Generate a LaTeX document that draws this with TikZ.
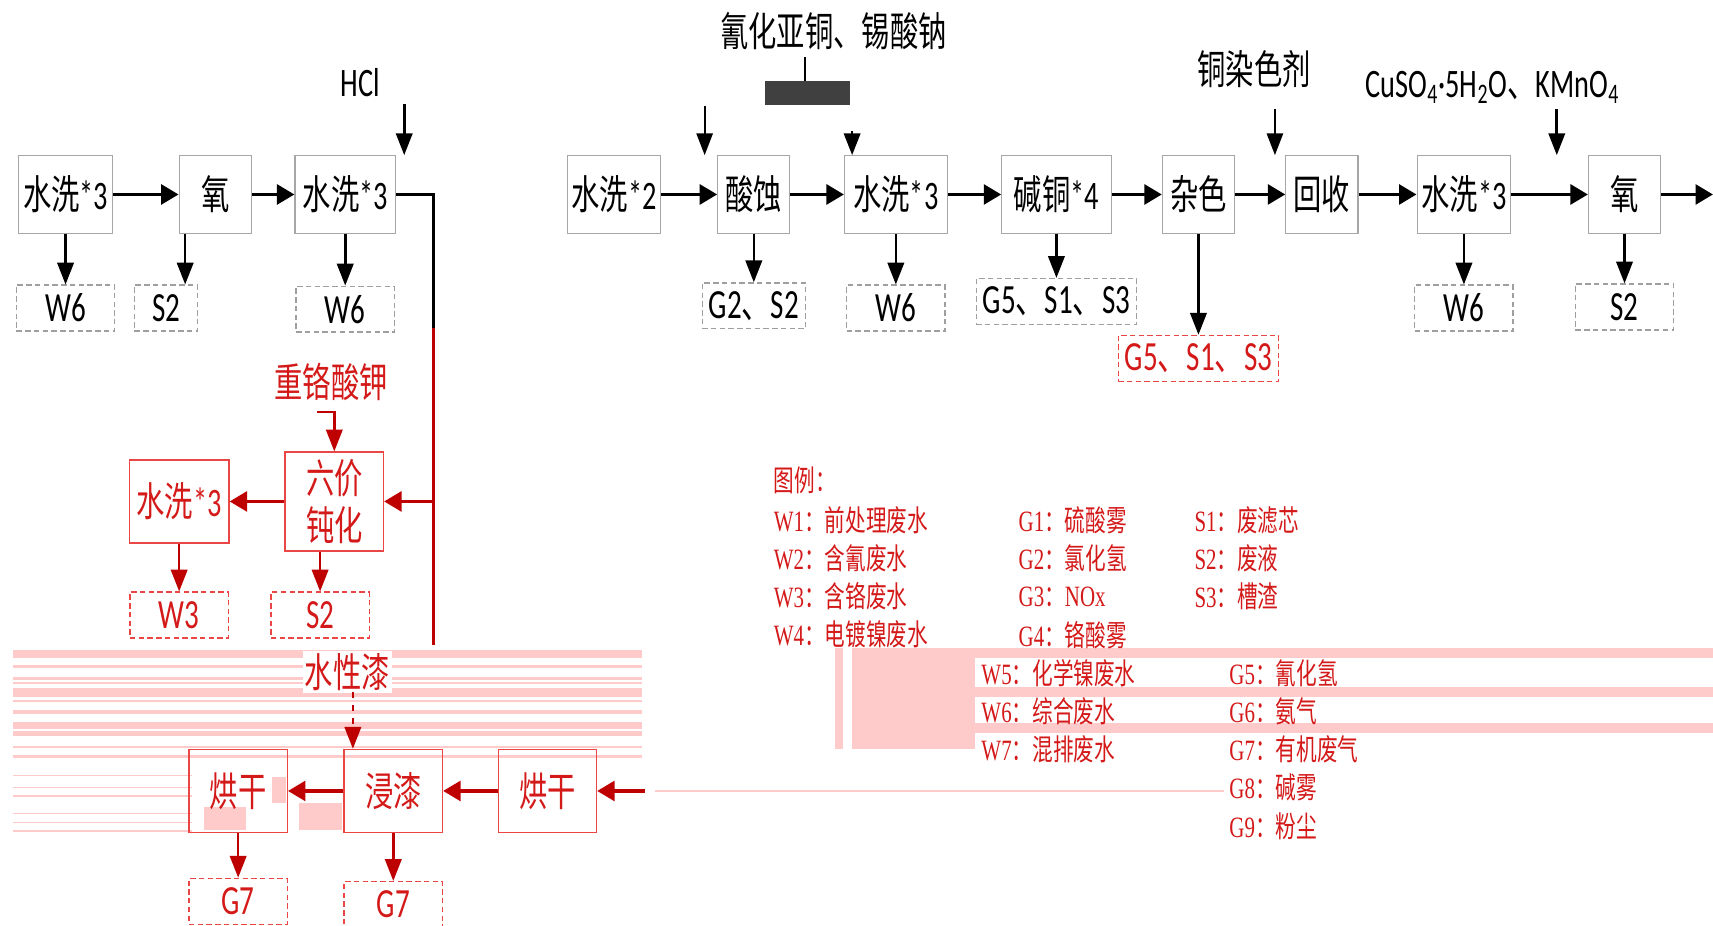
\documentclass[tikz,border=0pt]{standalone}
\usepackage{fontspec}
\setmainfont{Carlito}[FakeStretch=0.7]
\newfontfamily\cjk{Noto Sans CJK SC}[FakeStretch=0.7]
\newfontfamily\legserif{Liberation Serif}[FakeStretch=0.71]
\usetikzlibrary{arrows.meta}
\definecolor{redtxt}{RGB}{212,25,25}
\definecolor{redbox}{RGB}{235,70,70}
\definecolor{arrred}{RGB}{190,0,0}
\definecolor{glitch}{RGB}{255,202,202}
\newcommand{\zh}[1]{{\cjk #1}}
\newcommand{\legitem}[2]{{\legserif #1}{\cjk ：#2}}

\begin{document}
\begin{tikzpicture}[x=0.5pt, y=-0.5pt, font=\fontsize{18.5}{22}\selectfont,
	proc/.style={draw=gray!70, line width=0.5pt, minimum width=33pt, minimum height=36pt, inner xsep=2pt},
	outbox/.style={draw=gray!75, line width=0.6pt, dash pattern=on 2.5pt off 1.5pt, minimum width=45pt, minimum height=21pt, inner xsep=3pt, font=\fontsize{19}{22}\selectfont},
	redproc/.style={draw=redbox, text=redtxt, line width=0.6pt, minimum width=45pt, minimum height=38pt, align=center},
	redout/.style={outbox, draw=redbox, text=redtxt},
	harr/.style={-{Triangle[length=8pt,width=9pt]}, line width=1.7pt},
	varr/.style={-{Triangle[length=10pt,width=7.5pt]}, line width=1.2pt},
	redharr/.style={harr, arrred},
	redvarr/.style={varr, arrred},
	legtxt/.style={anchor=west, text=redtxt, inner sep=0pt, font=\fontsize{13.5}{16}\selectfont},
	band/.style={fill=glitch, draw=none}]
\useasboundingbox (0,0) rectangle (1568,847);

% broken pink bands
\fill[band] (12,595) rectangle (588,602);
\fill[band] (12,609) rectangle (588,611);
\fill[band] (12,620) rectangle (588,622);
\fill[band] (12,624) rectangle (588,626);
\fill[band] (12,630) rectangle (588,638);
\fill[band] (12,641) rectangle (588,643);
\fill[band] (12,650) rectangle (588,654);
\fill[band] (12,661) rectangle (588,667);
\fill[band] (12,669) rectangle (588,674);
\fill[band] (12,683) rectangle (588,685);
\fill[band] (12,691) rectangle (588,694);
\fill[band] (12,709) rectangle (176,710.5);
\fill[band] (12,720) rectangle (176,721.5);
\fill[band] (12,728) rectangle (176,729.5);
\fill[band] (12,744) rectangle (176,745.5);
\fill[band] (12,752) rectangle (176,753.5);
\fill[band] (12,760) rectangle (176,761.5);
\fill[band] (187,739) rectangle (225,760);
\fill[band] (249,711) rectangle (262,735);
\fill[band] (274,735) rectangle (313,760);
\fill[band] (764,593) rectangle (772,686);
\fill[band] (780,593) rectangle (892,686);
\fill[band] (780,593) rectangle (1568,602);
\fill[band] (892,629) rectangle (1568,638);
\fill[band] (892,662) rectangle (1568,671);
\draw[glitch, line width=1pt] (600,724) -- (1120,724);

% main line
\node[proc] (wa) at (60,178) {\zh{水洗}*3};
\node[proc] (oa) at (197,178) {\zh{氧}};
\node[proc, minimum width=46pt] (wb) at (316,178) {\zh{水洗}*3};
\node[proc] (wc) at (562,178) {\zh{水洗}*2};
\node[proc] (sa) at (690,178) {\zh{酸蚀}};
\node[proc, minimum width=47pt] (wd) at (820,178) {\zh{水洗}*3};
\node[proc, minimum width=50pt] (ja) at (967,178) {\zh{碱铜}*4};
\node[proc] (za) at (1097,178) {\zh{杂色}};
\node[proc] (hs) at (1210,178) {\zh{回收}};
\node[proc] (we) at (1340,178) {\zh{水洗}*3};
\node[proc] (ob) at (1487,178) {\zh{氧}};
\coordinate (rt) at (1568,178);

\draw[harr] (wa) -- (oa);
\draw[harr] (oa) -- (wb);
\draw[harr] (wc) -- (sa);
\draw[harr] (sa) -- (wd);
\draw[harr] (wd) -- (ja);
\draw[harr] (ja) -- (za);
\draw[harr] (za) -- (hs);
\draw[harr] (hs) -- (we);
\draw[harr] (we) -- (ob);
\draw[harr] (ob) -- (rt);

% outputs
\node[outbox] (w6a) at (60,282) {W6};
\node[outbox, minimum width=29pt] (s2a) at (152,282) {S2};
\node[outbox] (w6b) at (316,283) {W6};
\node[outbox] (g2s2) at (690,280) {G2\zh{、}S2};
\node[outbox] (w6c) at (820,282) {W6};
\node[outbox] (g5a) at (967,276) {G5\zh{、}S1\zh{、}S3};
\node[redout] (g5b) at (1097,328) {G5\zh{、}S1\zh{、}S3};
\node[outbox] (w6d) at (1340,282) {W6};
\node[outbox] (s2b) at (1487,281) {S2};
\coordinate (oaq) at ([xshift=3pt]oa.south west);

\draw[varr] (wa) -- (w6a);
\draw[varr] (oaq) -- (oaq |- s2a.north);
\draw[varr] (wb) -- (w6b);
\draw[varr] (sa) -- (g2s2);
\draw[varr] (wd) -- (w6c);
\draw[varr] (ja) -- (g5a);
\draw[varr] (za) -- (g5b);
\draw[varr] (we) -- (w6d);
\draw[varr] (ob) -- (s2b);

% feeds from the top
\node (hcl) at (330,76) {HCl};
\coordinate (ht) at (370,95);
\coordinate (hb) at (370,142);
\draw[varr] (ht) -- (hb);

\node (cu) at (763,28) {\zh{氰化亚铜、锡酸钠}};
\coordinate (cb) at (737,75);
\draw[line width=1.2pt] (cb |- cu.south) -- (cb);
\fill[black!75] (700,74) rectangle (778,96);
\coordinate (sat) at (645,97);
\coordinate (sab) at (645,142);
\draw[varr, line width=0.8pt] (sat) -- (sab);
\coordinate (wdt) at (780,120);
\coordinate (wdb) at (780,142);
\draw[varr] (wdt) -- (wdb);

\node (rs) at (1148,63) {\zh{铜染色剂}};
\coordinate (rst) at (1167,100);
\coordinate (rsb) at (1167,142);
\draw[varr, line width=0.8pt] (rst) -- (rsb);
\node[anchor=west] (cs) at (1243,80) {CuSO\textsubscript{4}·5H\textsubscript{2}O\zh{、}KMnO\textsubscript{4}};
\coordinate (cst) at (1425,100);
\coordinate (csb) at (1425,142);
\draw[varr] (cst) -- (csb);

% passivation branch
\coordinate (jn) at (397,178);
\coordinate (jm) at (397,300);
\coordinate (jl) at (397,459);
\coordinate (jd) at (397,590);
\draw[line width=1.6pt] (wb) -- (jn) -- (jm);
\draw[arrred, line width=1.4pt] (jm) -- (jd);

\node[text=redtxt] (kcr) at (303,350) {\zh{重铬酸钾}};
\node[redproc, font=\fontsize{18.5}{21.5}\selectfont] (lb) at (306,459) {\zh{六价}\\\zh{钝化}};
\node[redproc] (rw) at (164,459) {\zh{水洗}*3};
\node[redout] (w3) at (164,563) {W3};
\node[redout] (s2c) at (293,563) {S2};
\coordinate (kb) at (290,377);

\draw[redharr] (jl) -- (lb);
\draw[redharr] (lb) -- (rw);
\draw[redvarr] (kb) -| (lb.north);
\draw[redvarr] (rw) -- (w3);
\draw[redvarr] (lb.south -| s2c.north) -- (s2c.north);

% painting
\node[text=redtxt, fill=white, inner sep=1pt] (wp) at (318,615) {\zh{水性漆}};
\node[redproc] (dr1) at (218,724) {\zh{烘干}};
\node[redproc] (dp) at (360,724) {\zh{浸漆}};
\node[redproc] (dr2) at (501,724) {\zh{烘干}};
\node[redout] (g7a) at (218,825) {G7};
\node[redout] (g7b) at (360,828) {G7};
\coordinate (fr) at (590,724);
\coordinate (wpa) at (323,633);

\draw[redharr] (fr) -- (dr2);
\draw[redharr] (dr2) -- (dp);
\draw[redharr] (dp) -- (dr1);
\draw[redvarr, dashed] (wpa) -- (wpa |- dp.north);
\draw[redvarr] (dr1) -- (g7a);
\draw[redvarr] (dp) -- (g7b);

% legend
\node[legtxt] (lg) at (708,440) {\zh{图例：}};
\node[legtxt] (lw1) at (708,476) {\legitem{W1}{前处理废水}};
\node[legtxt] (lw2) at (708,511) {\legitem{W2}{含氰废水}};
\node[legtxt] (lw3) at (708,546) {\legitem{W3}{含铬废水}};
\node[legtxt] (lw4) at (708,581) {\legitem{W4}{电镀镍废水}};
\node[legtxt] (lg1) at (932,476) {\legitem{G1}{硫酸雾}};
\node[legtxt] (lg2) at (932,511) {\legitem{G2}{氯化氢}};
\node[legtxt] (lg3) at (932,546) {{\legserif G3}{\cjk ：}{\legserif NOx}};
\node[legtxt] (lg4) at (932,581) {\legitem{G4}{铬酸雾}};
\node[legtxt] (ls1) at (1093,476) {\legitem{S1}{废滤芯}};
\node[legtxt] (ls2) at (1093,511) {\legitem{S2}{废液}};
\node[legtxt] (ls3) at (1093,546) {\legitem{S3}{槽渣}};
\node[legtxt] (lw5) at (898,616) {\legitem{W5}{化学镍废水}};
\node[legtxt] (lw6) at (898,651) {\legitem{W6}{综合废水}};
\node[legtxt] (lw7) at (898,686) {\legitem{W7}{混排废水}};
\node[legtxt] (lg5) at (1125,616) {\legitem{G5}{氰化氢}};
\node[legtxt] (lg6) at (1125,651) {\legitem{G6}{氨气}};
\node[legtxt] (lg7) at (1125,686) {\legitem{G7}{有机废气}};
\node[legtxt] (lg8) at (1125,721) {\legitem{G8}{碱雾}};
\node[legtxt] (lg9) at (1125,756) {\legitem{G9}{粉尘}};
\end{tikzpicture}
\end{document}
